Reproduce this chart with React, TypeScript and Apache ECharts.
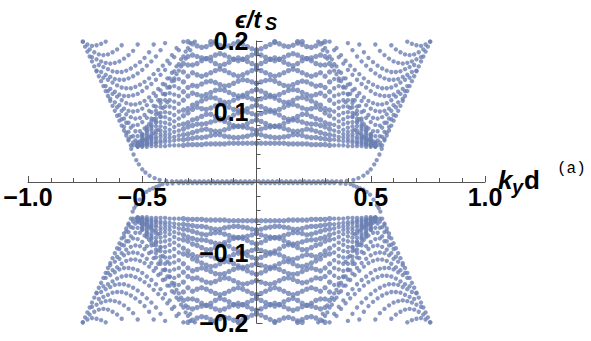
import React, { useEffect, useRef } from "react";
import * as echarts from "echarts";

// All band values: |k| and |E| in thousandths.
type Band = [number, number[]];

const xTickLabels = ["−1.0", "−0.5", "0.5", "1.0"];
const yTickLabels = ["−0.2", "−0.1", "0.1", "0.2"];

const upperLeftArcs: Band[] = [
  [760, [199,195,193,194,196,199]],
  [730, [188,184,181,180,181,184,188,194]],
  [720, [177,174,171,169,168,169,171,175,180,186,195]],
  [690, [166,163,160,157,156,156,158,161,165,170,176,184,195]],
  [700, [158,156,152,149,146,145,145,147,150,154,159,165,171,178,187,197]],
  [670, [148,145,141,137,134,133,133,135,138,142,147,153,159,165,172,180,190]],
  [660, [136,132,128,124,122,122,123,125,129,134,139,145,152,159,168,177,187,199]],
  [650, [129,125,121,116,112,110,110,112,115,120,126,132,139,147,155,164,174,185,197]],
  [640, [118,113,109,104,101,100,101,104,109,115,122,130,138,147,157,167,178,190]],
  [610, [106,101,96,92,90,91,95,101,108,116,125,134,143,153,164,175,187,199]],
  [600, [95,90,84,80,81,85,91,99,107,116,125,134,144]],
  [590, [89,84,77,72,72,76,82,89,97,105,113]],
  [580, [78,71,65,65,68,73,79,86,93]],
  [570, [70,64,59,58,60,64,69,74]],
  [560, [61,56,55,57,60,63]],
  [540, [52,51,52,54]],
];
const upperRightArcs: Band[] = [
  [760, [199,195,193,194,196,199]],
  [730, [188,184,181,180,181,184,188,194]],
  [720, [177,174,171,169,168,169,171,175,180,186,195]],
  [690, [166,163,160,157,156,156,158,161,165,170,176,184,195]],
  [700, [158,156,152,149,146,145,145,147,150,154,159,165,171,178,187,197]],
  [670, [148,145,141,137,134,133,133,135,138,142,147,153,159,165,172,180,190]],
  [660, [136,132,128,124,122,122,123,125,129,134,139,145,152,159,168,177,187,199]],
  [650, [129,125,121,116,112,110,110,112,115,120,126,132,139,147,155,164,174,185,197]],
  [640, [118,113,109,104,101,100,101,104,109,115,122,130,138,147,157,167,178,190]],
  [610, [106,101,96,92,90,91,95,101,108,116,125,134,143,153,164,175,187,199]],
  [600, [95,90,84,80,81,85,91,99,107,116,125,134,144]],
  [590, [89,84,77,72,72,76,82,89,97,105,113]],
  [580, [78,71,65,65,68,73,79,86,93]],
  [570, [70,64,59,58,60,64,69,74]],
  [560, [61,56,55,57,60,63]],
  [540, [52,51,52,54]],
];
const lowerLeftArcs: Band[] = [
  [760, [199,195,193,194,196,199]],
  [730, [188,184,181,180,181,184,188,194]],
  [720, [177,174,171,169,168,169,171,175,180,186,195]],
  [690, [166,163,160,157,156,156,158,161,165,170,176,184,195]],
  [700, [158,156,152,149,146,145,145,147,150,154,159,165,171,178,187,197]],
  [670, [148,145,141,137,134,133,133,135,138,142,147,153,159,165,172,180,190]],
  [660, [136,132,128,124,122,122,123,125,129,134,139,145,152,159,168,177,187,199]],
  [650, [129,125,121,116,112,110,110,112,115,120,126,132,139,147,155,164,174,185,197]],
  [640, [118,113,109,104,101,100,101,104,109,115,122,130,138,147,157,167,178,190]],
  [610, [106,101,96,92,90,91,95,101,108,116,125,134,143,153,164,175,187,199]],
  [600, [95,90,84,80,81,85,91,99,107,116,125,134,144]],
  [590, [89,84,77,72,72,76,82,89,97,105,113]],
  [580, [78,71,65,65,68,73,79,86,93]],
  [570, [70,64,59,58,60,64,69,74]],
  [560, [61,56,55,57,60,63]],
  [540, [52,51,52,54]],
];
const lowerRightArcs: Band[] = [
  [760, [199,195,193,194,196,199]],
  [730, [188,184,181,180,181,184,188,194]],
  [720, [177,174,171,169,168,169,171,175,180,186,195]],
  [690, [166,163,160,157,156,156,158,161,165,170,176,184,195]],
  [700, [158,156,152,149,146,145,145,147,150,154,159,165,171,178,187,197]],
  [670, [148,145,141,137,134,133,133,135,138,142,147,153,159,165,172,180,190]],
  [660, [136,132,128,124,122,122,123,125,129,134,139,145,152,159,168,177,187,199]],
  [650, [129,125,121,116,112,110,110,112,115,120,126,132,139,147,155,164,174,185,197]],
  [640, [118,113,109,104,101,100,101,104,109,115,122,130,138,147,157,167,178,190]],
  [610, [106,101,96,92,90,91,95,101,108,116,125,134,143,153,164,175,187,199]],
  [600, [95,90,84,80,81,85,91,99,107,116,125,134,144]],
  [590, [89,84,77,72,72,76,82,89,97,105,113]],
  [580, [78,71,65,65,68,73,79,86,93]],
  [570, [70,64,59,58,60,64,69,74]],
  [560, [61,56,55,57,60,63]],
  [540, [52,51,52,54]],
];

const upperLeftLevels: Band[] = [
  [0, [55,55,55,55,55,55,55,54,54,54,54,54,53,53,53,53,52,52,52,52,51,51,51,51,50,50,50]],
  [0, [68,67,65,64,63,63,64,65,67,67,66,64,63,63,62,61,60,60,59,58,57,56,55,54,53,52,51]],
  [0, [73,75,77,78,79,78,76,74,72,72,73,75,74,72,70,68,67,66,64,63,61,59,57,56,54,52,51]],
  [0, [88,86,83,80,79,80,83,86,88,87,85,83,82,82,80,78,75,73,71,68,66,64,61,59,56,54,51]],
  [0, [95,97,99,100,98,95,91,89,90,93,96,96,93,90,88,84,82,81,78,74,71,68,64,61,58,54,51]],
  [0, [109,107,104,102,101,103,106,109,110,108,105,103,104,106,103,98,94,90,86,82,77,73,69,65,60,56,52]],
  [0, [116,118,120,121,119,116,113,113,116,119,120,118,115,112,109,104,102,100,95,89,84,79,73,68,63,58,52]],
  [0, [131,129,126,123,122,124,127,130,131,130,127,124,122,124,126,122,116,111,105,98,92,85,79,73,66,60,53]],
  [0, [140,142,144,145,143,140,137,136,138,141,143,142,139,136,137,134,128,122,114,107,99,92,84,76,69,61,53]],
  [0, [160,158,155,152,150,152,155,158,160,158,155,152,150,152,155,150,142,133,124,116,107,98,90,81,72,64,55]],
  [0, [165,168,171,174,176,174,170,167,165,168,172,175,172,168,166,166,156,146,136,126,116,106,96,86,76,66,56]],
  [0, [182,180,177,174,172,174,177,180,182,180,177,175,176,178,180,178,168,158,147,135,124,112,101,90,78,67,55]],
  [0, [187,189,192,195,198]],
  [80, [199,196,193,192,194,197,199]],
  [180, [199,195,192,191,193,196,199]],
];
const upperRightLevels: Band[] = [
  [0, [55,55,55,55,55,55,55,54,54,54,54,54,53,53,53,53,52,52,52,52,51,51,51,51,50,50,50]],
  [0, [68,67,65,64,63,63,64,65,67,67,66,64,63,63,62,61,60,60,59,58,57,56,55,54,53,52,51]],
  [0, [73,75,77,78,79,78,76,74,72,72,73,75,74,72,70,68,67,66,64,63,61,59,57,56,54,52,51]],
  [0, [88,86,83,80,79,80,83,86,88,87,85,83,82,82,80,78,75,73,71,68,66,64,61,59,56,54,51]],
  [0, [95,97,99,100,98,95,91,89,90,93,96,96,93,90,88,84,82,81,78,74,71,68,64,61,58,54,51]],
  [0, [109,107,104,102,101,103,106,109,110,108,105,103,104,106,103,98,94,90,86,82,77,73,69,65,60,56,52]],
  [0, [116,118,120,121,119,116,113,113,116,119,120,118,115,112,109,104,102,100,95,89,84,79,73,68,63,58,52]],
  [0, [131,129,126,123,122,124,127,130,131,130,127,124,122,124,126,122,116,111,105,98,92,85,79,73,66,60,53]],
  [0, [140,142,144,145,143,140,137,136,138,141,143,142,139,136,137,134,128,122,114,107,99,92,84,76,69,61,53]],
  [0, [160,158,155,152,150,152,155,158,160,158,155,152,150,152,155,150,142,133,124,116,107,98,90,81,72,64,55]],
  [0, [165,168,171,174,176,174,170,167,165,168,172,175,172,168,166,166,156,146,136,126,116,106,96,86,76,66,56]],
  [0, [182,180,177,174,172,174,177,180,182,180,177,175,176,178,180,178,168,158,147,135,124,112,101,90,78,67,55]],
  [0, [187,189,192,195,198]],
  [80, [199,196,193,192,194,197,199]],
  [180, [199,195,192,191,193,196,199]],
];
const lowerLeftLevels: Band[] = [
  [0, [55,55,55,55,55,55,55,54,54,54,54,54,53,53,53,53,52,52,52,52,51,51,51,51,50,50,50]],
  [0, [68,67,65,64,63,63,64,65,67,67,66,64,63,63,62,61,60,60,59,58,57,56,55,54,53,52,51]],
  [0, [73,75,77,78,79,78,76,74,72,72,73,75,74,72,70,68,67,66,64,63,61,59,57,56,54,52,51]],
  [0, [88,86,83,80,79,80,83,86,88,87,85,83,82,82,80,78,75,73,71,68,66,64,61,59,56,54,51]],
  [0, [95,97,99,100,98,95,91,89,90,93,96,96,93,90,88,84,82,81,78,74,71,68,64,61,58,54,51]],
  [0, [109,107,104,102,101,103,106,109,110,108,105,103,104,106,103,98,94,90,86,82,77,73,69,65,60,56,52]],
  [0, [116,118,120,121,119,116,113,113,116,119,120,118,115,112,109,104,102,100,95,89,84,79,73,68,63,58,52]],
  [0, [131,129,126,123,122,124,127,130,131,130,127,124,122,124,126,122,116,111,105,98,92,85,79,73,66,60,53]],
  [0, [140,142,144,145,143,140,137,136,138,141,143,142,139,136,137,134,128,122,114,107,99,92,84,76,69,61,53]],
  [0, [160,158,155,152,150,152,155,158,160,158,155,152,150,152,155,150,142,133,124,116,107,98,90,81,72,64,55]],
  [0, [165,168,171,174,176,174,170,167,165,168,172,175,172,168,166,166,156,146,136,126,116,106,96,86,76,66,56]],
  [0, [182,180,177,174,172,174,177,180,182,180,177,175,176,178,180,178,168,158,147,135,124,112,101,90,78,67,55]],
  [0, [187,189,192,195,198]],
  [80, [199,196,193,192,194,197,199]],
  [180, [199,195,192,191,193,196,199]],
];
const lowerRightLevels: Band[] = [
  [0, [55,55,55,55,55,55,55,54,54,54,54,54,53,53,53,53,52,52,52,52,51,51,51,51,50,50,50]],
  [0, [68,67,65,64,63,63,64,65,67,67,66,64,63,63,62,61,60,60,59,58,57,56,55,54,53,52,51]],
  [0, [73,75,77,78,79,78,76,74,72,72,73,75,74,72,70,68,67,66,64,63,61,59,57,56,54,52,51]],
  [0, [88,86,83,80,79,80,83,86,88,87,85,83,82,82,80,78,75,73,71,68,66,64,61,59,56,54,51]],
  [0, [95,97,99,100,98,95,91,89,90,93,96,96,93,90,88,84,82,81,78,74,71,68,64,61,58,54,51]],
  [0, [109,107,104,102,101,103,106,109,110,108,105,103,104,106,103,98,94,90,86,82,77,73,69,65,60,56,52]],
  [0, [116,118,120,121,119,116,113,113,116,119,120,118,115,112,109,104,102,100,95,89,84,79,73,68,63,58,52]],
  [0, [131,129,126,123,122,124,127,130,131,130,127,124,122,124,126,122,116,111,105,98,92,85,79,73,66,60,53]],
  [0, [140,142,144,145,143,140,137,136,138,141,143,142,139,136,137,134,128,122,114,107,99,92,84,76,69,61,53]],
  [0, [160,158,155,152,150,152,155,158,160,158,155,152,150,152,155,150,142,133,124,116,107,98,90,81,72,64,55]],
  [0, [165,168,171,174,176,174,170,167,165,168,172,175,172,168,166,166,156,146,136,126,116,106,96,86,76,66,56]],
  [0, [182,180,177,174,172,174,177,180,182,180,177,175,176,178,180,178,168,158,147,135,124,112,101,90,78,67,55]],
  [0, [187,189,192,195,198]],
  [80, [199,196,193,192,194,197,199]],
  [180, [199,195,192,191,193,196,199]],
];

const bandEdge = [199,192,185,178,171,164,157,150,143,136,129,122,115,108,101,94,87,80,73,66,59,52];

const upperZeroK = [548,538,526,515,500,486,468,446,424,395,370,350,330,310,290,270,250,230,210,190,170,150,130,110,90,70,50,30,10];
const upperZeroE = [47,39,31,25,18,13.5,9,5.5,3,1.5,1,1,1,1,1,1,1,1,1,1,1,1,1,1,1,1,1,1,1];
const lowerZeroK = [542,535,527,512,497,482,468,453,439,425,411,390,367,340,320,300,280,260,240,220,200,180,160,140,120,100,80,60,40,20];
const lowerZeroE = [42,37,33,25,18,14,11,9,7,5,3,2.5,2,1.5,1.5,1.5,1.5,1.5,1.5,1.5,1.5,1.5,1.5,1.5,1.5,1.5,1.5,1.5,1.5,1.5];

const lattice: number[][] = [];
const braid: number[][] = [];
const collect = (arcs: Band[], levels: Band[], zk: number[], ze: number[], sk: number, se: number) => {
  const put = (to: number[][], k: number, e: number) => to.push([(sk * k) / 1000, (se * e) / 1000]);
  arcs.forEach(([s, vs]) => vs.forEach((v, i) => put(lattice, s - 20 * i, v)));
  levels.forEach(([s, vs]) => vs.forEach((v, i) => put(s + 20 * i <= 320 ? braid : lattice, s + 20 * i, v)));
  bandEdge.forEach((v, i) => put(lattice, 760 - 10 * i, v));
  zk.forEach((k, i) => put(lattice, k, ze[i]));
};
collect(upperLeftArcs, upperLeftLevels, upperZeroK, upperZeroE, -1, 1);
collect(upperRightArcs, upperRightLevels, upperZeroK, upperZeroE, 1, 1);
collect(lowerLeftArcs, lowerLeftLevels, lowerZeroK, lowerZeroE, -1, -1);
collect(lowerRightArcs, lowerRightLevels, lowerZeroK, lowerZeroE, 1, -1);

const tickFont = { fontFamily: "Liberation Sans", fontWeight: "bold" as const, fontSize: 25, color: "#000" };
const axisCol = "#555";
const dotColor = "#6b80b3";
const txt = (text: string, x: number, y: number, font: string, fill = "#000") => ({
  type: "text", x, y, z: 10, style: { text, x: 0, y: 0, font, fill, textVerticalAlign: "top" },
});

export default function App() {
  const ref = useRef<HTMLDivElement>(null);
  useEffect(() => {
    document.body.style.margin = "0";
    const chart = echarts.init(ref.current!, undefined, { renderer: "svg" });
    chart.setOption({
      animation: false,
      backgroundColor: "#fff",
      grid: { left: 28, right: 106, top: 41, bottom: 18, outerBoundsMode: "none", containLabel: false },
      xAxis: {
        type: "value", min: -1, max: 1, interval: 0.5, z: 5,
        position: "bottom", offset: -141,
        axisLine: { onZero: false, lineStyle: { color: axisCol, width: 1 } },
        axisTick: { inside: true, length: 6, lineStyle: { color: axisCol } },
        minorTick: { show: true, splitNumber: 5, length: 4, lineStyle: { color: axisCol } },
        splitLine: { show: false },
        axisLabel: {
          ...tickFont, margin: 2, hideOverlap: false, showMinLabel: true, showMaxLabel: true,
          formatter: (v: number) => xTickLabels.find((t) => Number(t.replace("−", "-")) === v) ?? "",
        },
      },
      yAxis: {
        type: "value", min: -0.2, max: 0.2, interval: 0.1, z: 5,
        position: "left", offset: -228.5,
        axisLine: { onZero: false, show: true, lineStyle: { color: axisCol, width: 1 } },
        axisTick: { show: true, inside: true, length: 6, lineStyle: { color: axisCol } },
        minorTick: { show: true, splitNumber: 5, length: 4, lineStyle: { color: axisCol } },
        splitLine: { show: false },
        axisLabel: {
          ...tickFont, margin: 8,
          formatter: (v: number) => yTickLabels.find((t) => Math.abs(Number(t.replace("−", "-")) - v) < 1e-9) ?? "",
        },
      },
      graphic: [
        txt("ϵ/t", 235, 7, "italic bold 24px 'Liberation Sans'"),
        txt("S", 265, 15, "italic bold 18px 'Liberation Sans'"),
        txt("k", 498, 167, "italic bold 26px 'Liberation Sans'"),
        txt("y", 512, 177, "italic bold 20px 'Liberation Sans'"),
        txt("d", 524, 167, "bold 26px 'Liberation Sans'"),
        txt("(a)", 557, 161, "16px 'Liberation Mono'"),
      ],
      series: [
        { type: "scatter", data: lattice, symbol: "circle", symbolSize: 4.4, itemStyle: { color: dotColor }, clip: false, silent: true },
        { type: "scatter", data: braid, symbol: "circle", symbolSize: 5.4, itemStyle: { color: dotColor }, clip: false, silent: true },
      ],
    });
    return () => chart.dispose();
  }, []);
  return <div ref={ref} style={{ width: 591, height: 341 }} />;
}
